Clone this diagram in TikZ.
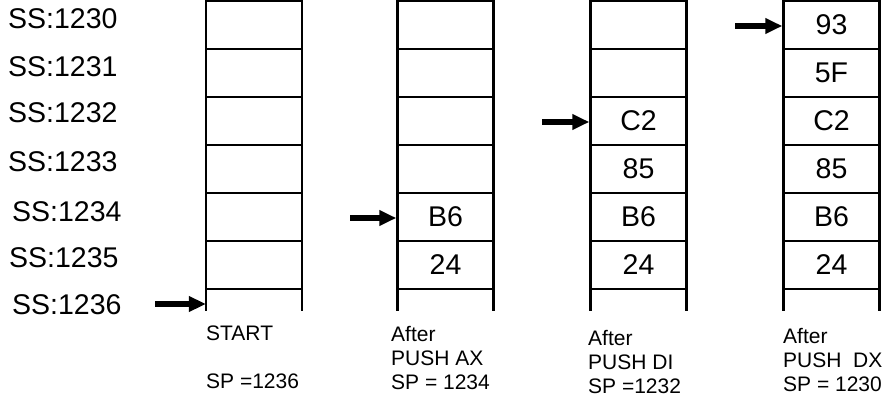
\documentclass[tikz,border=0pt]{standalone}
\usepackage{fontspec}
\setmainfont{Liberation Sans}
\usetikzlibrary{arrows.meta}
\tikzset{
  cell/.style={draw,line width=2.5pt,minimum width=96pt,minimum height=48pt,inner sep=0pt,
    font=\fontsize{28.5}{28.5}\selectfont},
  stub/.style={minimum width=96pt,minimum height=22pt,inner sep=0pt},
  addr/.style={anchor=west,inner sep=0pt,font=\fontsize{28.5}{28.5}\selectfont},
  caption/.style={anchor=north west,inner sep=0pt,align=left,
    font=\fontsize{21}{24}\selectfont},
  sp/.style={-{Triangle[length=17pt,width=15pt]},line width=5.5pt}
}
\begin{document}
\begin{tikzpicture}[x=1pt,y=-1pt]
        \useasboundingbox (0,0) rectangle (885,398);
        \foreach \x/\y/\a in {8/19/1230,8/67/1231,8/113/1232,8/162/1233,12/212/1234,9/258/1235,12/305/1236}
            \node[addr] (ss\a) at (\x,\y) {SS:\a};
        \foreach \v [count=\r] in {{},{},{},{},{},{}}
            \node[cell] (start\r) at (254,{25+48*(\r-1)}) {\v};
        \foreach \v [count=\r] in {{},{},{},{},B6,24}
            \node[cell] (ax\r) at (445.5,{25+48*(\r-1)}) {\v};
        \foreach \v [count=\r] in {{},{},C2,85,B6,24}
            \node[cell] (di\r) at (638.5,{25+48*(\r-1)}) {\v};
        \foreach \v [count=\r] in {93,5F,C2,85,B6,24}
            \node[cell] (dx\r) at (831.5,{25+48*(\r-1)}) {\v};
        \foreach \c/\x in {start/254,ax/445.5,di/638.5,dx/831.5} {
            \node[stub] (\c7) at (\x,300) {};
            \draw[line width=2.5pt] (\c7.north west) -- (\c7.south west)
                (\c7.north east) -- (\c7.south east);
        }
        \coordinate (p1) at (155,304);
        \coordinate (p2) at (350,218);
        \coordinate (p3) at (542,122);
        \coordinate (p4) at (735,26);
        \draw[sp] (p1) -- (p1 -| start7.west);
        \draw[sp] (p2) -- (p2 -| ax5.west);
        \draw[sp] (p3) -- (p3 -| di3.west);
        \draw[sp] (p4) -- (p4 -| dx1.west);
        \node[caption] (cap1) at (206,326) {START\\[24pt]SP =1236};
        \node[caption] (cap2) at (391,326) {After\\PUSH AX\\SP = 1234};
        \node[caption] (cap3) at (588,330) {After\\PUSH DI\\SP =1232};
        \node[caption] (cap4) at (783,328) {After\\PUSH~~DX\\SP = 1230};
\end{tikzpicture}
\end{document}
